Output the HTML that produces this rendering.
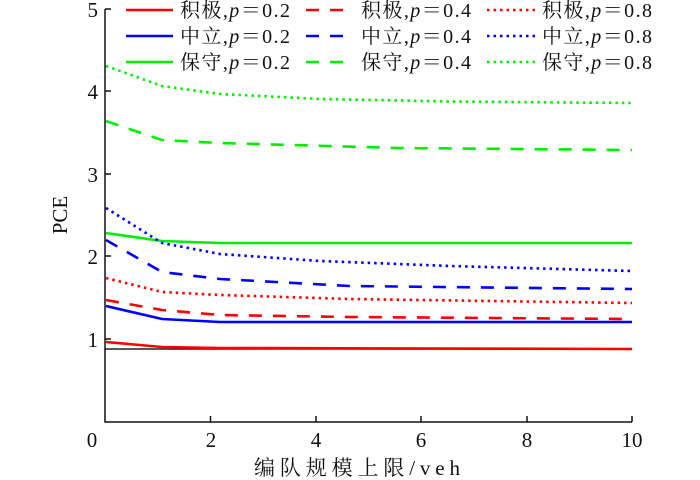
<!DOCTYPE html>
<html><head><meta charset="utf-8"><style>
html,body{margin:0;padding:0;background:#fff;}
svg{display:block;}
text{font-family:"Liberation Serif","Noto Serif CJK SC",serif;fill:#111;}
</style></head><body>
<svg width="700" height="480" viewBox="0 0 700 480" xmlns="http://www.w3.org/2000/svg">
<g fill="none" stroke-width="2.6">
<line x1="105" y1="349" x2="632" y2="349" stroke="#222" stroke-width="1.5"/>
<polyline stroke="#00ee00" stroke-dasharray="2.5,4" points="106,66 162,86 220,94 320,99 450,101.5 632,103"/>
<polyline stroke="#00ee00" stroke-dasharray="13,11" points="106,121 162,140 220,143 400,148 632,150"/>
<polyline stroke="#00ee00" points="106,233 162,241 220,243 632,243"/>
<polyline stroke="#0000ff" stroke-dasharray="2.5,4" points="106,208 162,243 220,254 320,261 450,266 632,271"/>
<polyline stroke="#0000ff" stroke-dasharray="13,11" points="106,240 162,272 220,279 350,286 632,289"/>
<polyline stroke="#ff0000" stroke-dasharray="2.5,4" points="106,278 162,292 220,295 350,299 632,303"/>
<polyline stroke="#ff0000" stroke-dasharray="13,11" points="106,300 162,310 220,315 350,317 632,319"/>
<polyline stroke="#0000ff" points="106,306 162,319 220,322 632,322"/>
<polyline stroke="#ff0000" points="106,342 162,347 220,348 632,349"/>
</g>
<g stroke="#111" stroke-width="1.5" fill="none">
<polyline points="105,9 105,422 632,422"/>
<line x1="105" y1="9" x2="111" y2="9"/>
<line x1="105" y1="91" x2="111" y2="91"/>
<line x1="105" y1="174" x2="111" y2="174"/>
<line x1="105" y1="256" x2="111" y2="256"/>
<line x1="105" y1="339" x2="111" y2="339"/>
<line x1="210.5" y1="422" x2="210.5" y2="416"/>
<line x1="316" y1="422" x2="316" y2="416"/>
<line x1="421" y1="422" x2="421" y2="416"/>
<line x1="527" y1="422" x2="527" y2="416"/>
<line x1="632" y1="422" x2="632" y2="416"/>
</g>
<g font-size="21" text-anchor="end">
<text x="98" y="17">5</text><text x="98" y="99">4</text><text x="98" y="182">3</text><text x="98" y="264">2</text><text x="98" y="347">1</text>
</g>
<g font-size="21" text-anchor="middle">
<text x="92" y="447">0</text><text x="211" y="447">2</text><text x="316" y="447">4</text><text x="421" y="447">6</text><text x="527" y="447">8</text><text x="632" y="447">10</text>
<text transform="translate(67,215) rotate(-90)" font-size="21">PCE</text>
</g>
<text x="254" y="475" font-size="21" textLength="206">编队规模上限/veh</text>
<g stroke-width="2.6">
<line x1="126" y1="10" x2="173" y2="10" stroke="#ff0000"/>
<line x1="126" y1="36" x2="173" y2="36" stroke="#0000ff"/>
<line x1="126" y1="62" x2="173" y2="62" stroke="#00ee00"/>
<line x1="306" y1="10" x2="345" y2="10" stroke="#ff0000" stroke-dasharray="13,11"/>
<line x1="306" y1="36" x2="345" y2="36" stroke="#0000ff" stroke-dasharray="13,11"/>
<line x1="306" y1="62" x2="345" y2="62" stroke="#00ee00" stroke-dasharray="13,11"/>
<line x1="487" y1="10" x2="535" y2="10" stroke="#ff0000" stroke-dasharray="2.5,4"/>
<line x1="487" y1="36" x2="535" y2="36" stroke="#0000ff" stroke-dasharray="2.5,4"/>
<line x1="487" y1="62" x2="535" y2="62" stroke="#00ee00" stroke-dasharray="2.5,4"/>
</g>
<g font-size="20">
<text x="180" y="17" textLength="110">积极,<tspan font-style="italic">p</tspan>＝0.2</text>
<text x="180" y="43" textLength="110">中立,<tspan font-style="italic">p</tspan>＝0.2</text>
<text x="180" y="69" textLength="110">保守,<tspan font-style="italic">p</tspan>＝0.2</text>
<text x="361" y="17" textLength="110">积极,<tspan font-style="italic">p</tspan>＝0.4</text>
<text x="361" y="43" textLength="110">中立,<tspan font-style="italic">p</tspan>＝0.4</text>
<text x="361" y="69" textLength="110">保守,<tspan font-style="italic">p</tspan>＝0.4</text>
<text x="542" y="17" textLength="110">积极,<tspan font-style="italic">p</tspan>＝0.8</text>
<text x="542" y="43" textLength="110">中立,<tspan font-style="italic">p</tspan>＝0.8</text>
<text x="542" y="69" textLength="110">保守,<tspan font-style="italic">p</tspan>＝0.8</text>
</g>
</svg>
</body></html>
